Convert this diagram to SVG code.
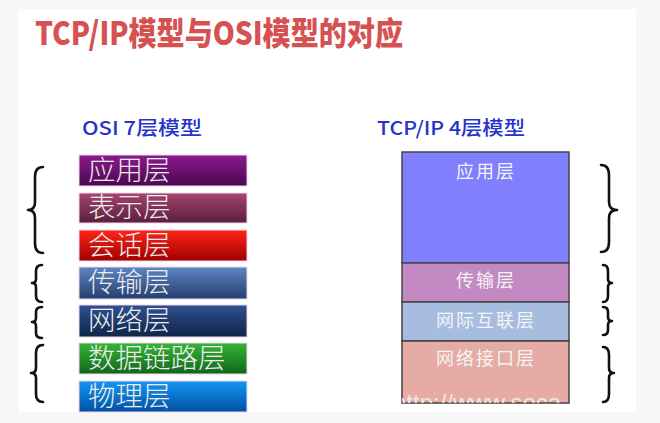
<svg xmlns="http://www.w3.org/2000/svg" width="660" height="423" viewBox="0 0 660 423">
<defs>
<style>
.title{font-family:"Noto Sans CJK SC","Liberation Sans",sans-serif;font-weight:900;font-size:32px;fill:#d65252}
.sub{font-family:"Noto Sans CJK SC","Liberation Sans",sans-serif;font-weight:500;font-size:19px;fill:#2535c8}
.osi{stroke:#f2d6ee;stroke-width:1}
.osit{font-family:"Noto Sans CJK SC",sans-serif;font-weight:300;font-size:27.5px;fill:#ececec}
.tcp{stroke:#444;stroke-width:1.5}
.tcpt{font-family:"Noto Sans CJK SC",sans-serif;font-size:18px;fill:#f4f4f4;text-anchor:middle;letter-spacing:2px}
.brace{fill:none;stroke:#111;stroke-width:2.6;stroke-linecap:round;stroke-linejoin:round}
</style>
<linearGradient id="g1" x1="0" y1="0" x2="0" y2="1"><stop offset="0" stop-color="#8c1a8e"/><stop offset="1" stop-color="#4a0850"/></linearGradient>
<linearGradient id="g2" x1="0" y1="0" x2="0" y2="1"><stop offset="0" stop-color="#a6456f"/><stop offset="1" stop-color="#5a1e3c"/></linearGradient>
<linearGradient id="g3" x1="0" y1="0" x2="0" y2="1"><stop offset="0" stop-color="#ff2418"/><stop offset="1" stop-color="#a00000"/></linearGradient>
<linearGradient id="g4" x1="0" y1="0" x2="0" y2="1"><stop offset="0" stop-color="#5c86c4"/><stop offset="1" stop-color="#253f6e"/></linearGradient>
<linearGradient id="g5" x1="0" y1="0" x2="0" y2="1"><stop offset="0" stop-color="#2e5190"/><stop offset="1" stop-color="#0f2448"/></linearGradient>
<linearGradient id="g6" x1="0" y1="0" x2="0" y2="1"><stop offset="0" stop-color="#36b536"/><stop offset="1" stop-color="#10661a"/></linearGradient>
<linearGradient id="g7" x1="0" y1="0" x2="0" y2="1"><stop offset="0" stop-color="#1496f4"/><stop offset="1" stop-color="#0050a4"/></linearGradient>
<clipPath id="wm"><rect x="402" y="340" width="167" height="63"/></clipPath>
</defs>
<rect x="0" y="0" width="660" height="423" fill="#f7f7f7"/>
<rect x="18" y="9" width="618" height="403" fill="#ffffff"/>
<text class="title" x="35" y="45" textLength="368" lengthAdjust="spacingAndGlyphs">TCP/IP模型与OSI模型的对应</text>
<text class="sub" x="82" y="135" textLength="120" lengthAdjust="spacingAndGlyphs">OSI 7层模型</text>
<text class="sub" x="377" y="135" textLength="148" lengthAdjust="spacingAndGlyphs">TCP/IP 4层模型</text>
<g id="osi-app"><rect class="osi" x="79" y="155" width="168" height="31" fill="url(#g1)"/><text class="osit" x="88" y="180">应用层</text></g>
<g id="osi-pres"><rect class="osi" x="79" y="193" width="168" height="30" fill="url(#g2)"/><text class="osit" x="88" y="217">表示层</text></g>
<g id="osi-sess"><rect class="osi" x="79" y="230" width="168" height="31" fill="url(#g3)"/><text class="osit" x="88" y="255">会话层</text></g>
<g id="osi-trans"><rect class="osi" x="79" y="267" width="168" height="32" fill="url(#g4)"/><text class="osit" x="88" y="292">传输层</text></g>
<g id="osi-net"><rect class="osi" x="79" y="305" width="168" height="32" fill="url(#g5)"/><text class="osit" x="88" y="330">网络层</text></g>
<g id="osi-link"><rect class="osi" x="79" y="343" width="168" height="31" fill="url(#g6)"/><text class="osit" x="88" y="368">数据链路层</text></g>
<g id="osi-phys"><rect class="osi" x="79" y="381" width="168" height="31" fill="url(#g7)"/><text class="osit" x="88" y="406">物理层</text></g>
<g id="tcp-app"><rect class="tcp" x="402" y="152" width="167" height="111" fill="#8080ff"/><text class="tcpt" x="486" y="178">应用层</text></g>
<g id="tcp-trans"><rect class="tcp" x="402" y="263" width="167" height="39" fill="#c389c2"/><text class="tcpt" x="486" y="287">传输层</text></g>
<g id="tcp-inet"><rect class="tcp" x="402" y="302" width="167" height="39" fill="#a6bde0"/><text class="tcpt" x="486" y="327">网际互联层</text></g>
<g id="tcp-link"><rect class="tcp" x="402" y="341" width="167" height="62" fill="#e6aba4"/><text class="tcpt" x="486" y="365">网络接口层</text></g>
<text x="393" y="411" clip-path="url(#wm)" font-family="Liberation Sans,sans-serif" font-size="24" fill="#f6f0f0" opacity="0.85">http://www.seca</text>
<g id="connectors">
<path class="brace" d="M43,167 Q35,167 35,177 L35,202 Q35,210 28,210 Q35,210 35,218 L35,243 Q35,253 43,253"/>
<path class="brace" d="M42,265 Q36,265 36,271 L36,279 Q36,283 32,283 Q36,283 36,287 L36,296 Q36,302 42,302"/>
<path class="brace" d="M42,307 Q36,307 36,312 L36,318 Q36,322 32,322 Q36,322 36,326 L36,333 Q36,338 42,338"/>
<path class="brace" d="M43,345 Q36,345 36,353 L36,368 Q36,373 31,373 Q36,373 36,378 L36,394 Q36,402 43,402"/>
<path class="brace" d="M601,165 Q609,165 609,175 L609,202 Q609,210 617,210 Q609,210 609,218 L609,242 Q609,252 601,252"/>
<path class="brace" d="M603,265 Q608,265 608,271 L608,279 Q608,283 612,283 Q608,283 608,287 L608,296 Q608,302 603,302"/>
<path class="brace" d="M603,307 Q608,307 608,312 L608,317 Q608,321 612,321 Q608,321 608,325 L608,330 Q608,335 603,335"/>
<path class="brace" d="M603,347 Q609,347 609,355 L609,368 Q609,373 614,373 Q609,373 609,378 L609,394 Q609,402 603,402"/>
</g>
</svg>
